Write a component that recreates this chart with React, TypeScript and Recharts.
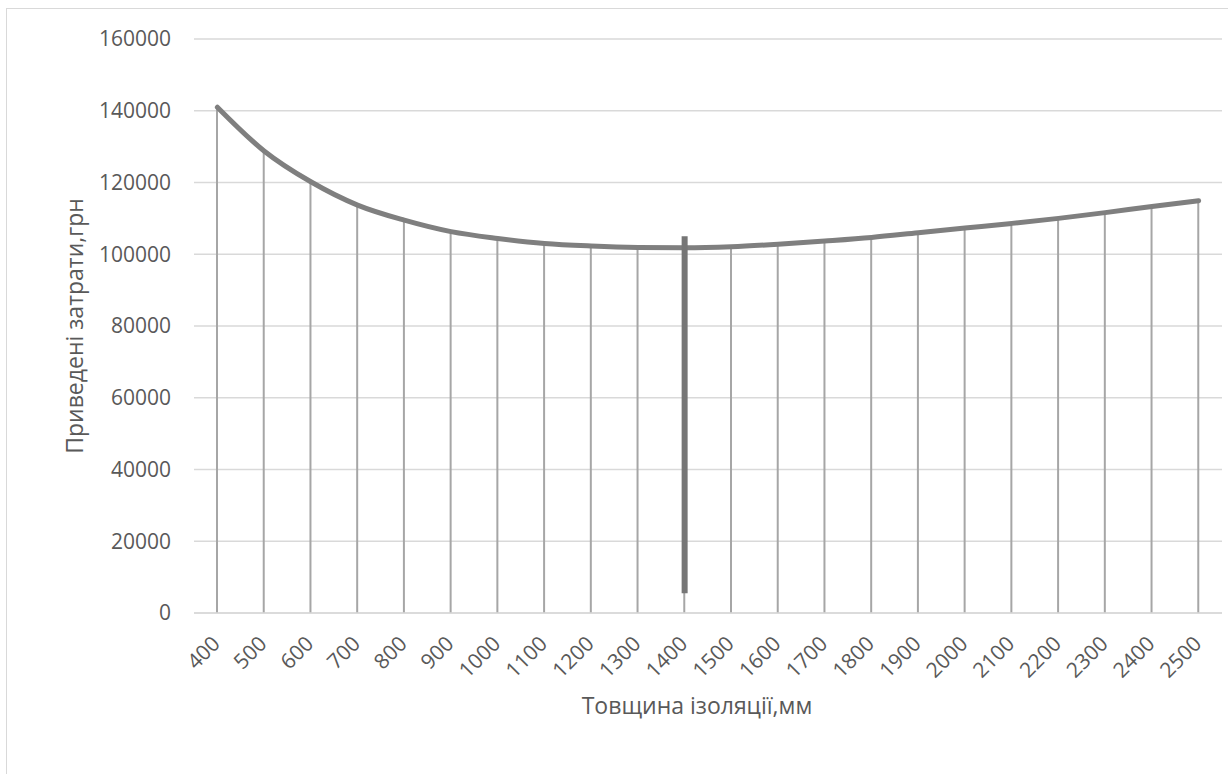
import {
  Bar,
  CartesianGrid,
  ComposedChart,
  Label,
  Line,
  ReferenceLine,
  XAxis,
  YAxis,
} from 'recharts'

// insulation thickness, mm
const thickness = [
  400, 500, 600, 700, 800, 900, 1000, 1100, 1200, 1300, 1400, 1500, 1600, 1700,
  1800, 1900, 2000, 2100, 2200, 2300, 2400, 2500,
]

// reduced costs, UAH
const cost = [
  141000, 128800, 120200, 113700, 109500, 106300, 104400, 103000, 102300, 101900,
  101800, 102100, 102800, 103700, 104700, 106000, 107300, 108600, 110000, 111600,
  113300, 114900,
]

const yTicks = [0, 20000, 40000, 60000, 80000, 100000, 120000, 140000, 160000]

// optimum marker at 1400 mm
const optimumX = 1400
const optimumRange = [5500, 105000]

const data = thickness.map((x, i) => ({ x, cost: cost[i] }))

const FONT = '"Open Sans", sans-serif'
const TEXT = '#595959'

const XTick = ({ x, y, payload }: any) => {
  const px = x + 4
  const py = y + 24
  return (
    <text
      x={px}
      y={py}
      transform={`rotate(-45, ${px}, ${py})`}
      textAnchor="end"
      fill={TEXT}
      fontSize={21}
      fontFamily={FONT}
    >
      {payload.value}
    </text>
  )
}

export default function App() {
  return (
    <div
      style={{
        position: 'fixed',
        left: 0,
        top: 0,
        width: 1228,
        height: 774,
        overflow: 'hidden',
        background: '#fff',
      }}
    >
      <div
        style={{
          position: 'absolute',
          left: 6,
          top: 8,
          width: 1240,
          height: 800,
          border: '1.5px solid #d9d9d9',
        }}
      />
      <div style={{ position: 'absolute', left: 0, top: 0 }}>
        <ComposedChart
          width={1228}
          height={774}
          data={data}
          margin={{ top: 39, right: 6, bottom: 0, left: 0 }}
        >
          <CartesianGrid vertical={false} stroke="#d9d9d9" strokeWidth={1.5} />
          <XAxis
            dataKey="x"
            interval={0}
            tickLine={false}
            axisLine={{ stroke: '#d9d9d9', strokeWidth: 1.5 }}
            height={161}
            tick={<XTick />}
          >
            <Label
              value="Товщина ізоляції,мм"
              position="insideBottom"
              offset={60}
              dx={-11}
              fill={TEXT}
              fontSize={23}
              fontFamily={FONT}
            />
          </XAxis>
          <YAxis
            domain={[0, 160000]}
            ticks={yTicks}
            interval={0}
            width={194}
            tickLine={false}
            axisLine={false}
            tickMargin={17}
            tick={{ fill: TEXT, fontSize: 21, fontFamily: FONT }}
          >
            <Label
              value="Приведені затрати,грн"
              angle={-90}
              position="insideLeft"
              offset={75}
              fill={TEXT}
              fontSize={23}
              fontFamily={FONT}
              style={{ textAnchor: 'middle' }}
            />
          </YAxis>
          <Bar dataKey="cost" barSize={2} fill="#a6a6a6" isAnimationActive={false} />
          <Line
            type="monotone"
            dataKey="cost"
            stroke="#7f7f7f"
            strokeWidth={5}
            strokeLinecap="round"
            dot={false}
            activeDot={false}
            isAnimationActive={false}
          />
          <ReferenceLine
            segment={[
              { x: optimumX, y: optimumRange[0] },
              { x: optimumX, y: optimumRange[1] },
            ]}
            stroke="#767676"
            strokeWidth={6}
          />
        </ComposedChart>
      </div>
    </div>
  )
}
